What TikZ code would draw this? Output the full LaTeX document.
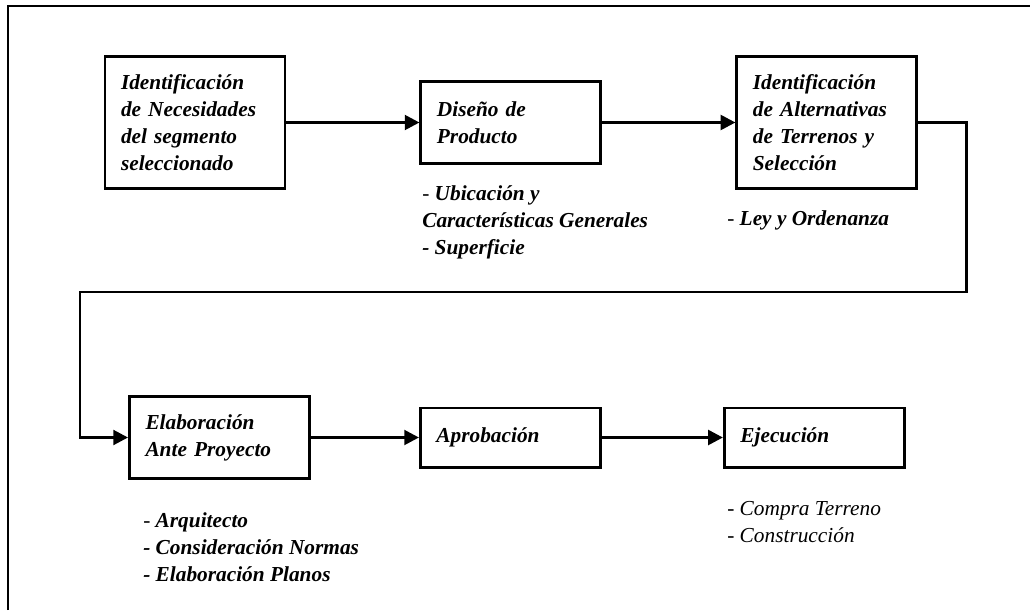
\documentclass[tikz,border=0pt]{standalone}
\usepackage{fontspec}
\setmainfont{Liberation Serif}
\usetikzlibrary{positioning,arrows.meta}

\begin{document}
\begin{tikzpicture}[x=0.75pt,y=-0.75pt,>={Triangle[length=11pt,width=11pt]},
        box/.style={draw,line width=2.2pt,minimum width=135pt,text width=111pt,inner xsep=12pt,align=left,
            font=\fontsize{16}{20.25}\selectfont\bfseries\itshape},
        note/.style={anchor=north west,inner sep=0pt,align=left,font=\fontsize{16}{20.25}\selectfont\bfseries\itshape},
        link/.style={->,line width=2.2pt}]
                \useasboundingbox (0,0) rectangle (1030,610);
                \draw[line width=1.8pt] (8,610) -- (8,6) -- (1030,6);

                \node[box,minimum height=99pt] at (195,122.5) (b1) {Identificación\\de Necesidades\\del segmento\\seleccionado};
                \node[box,minimum height=61.5pt,right=99.75pt of b1] (b2) {Diseño de\\Producto};
                \node[box,minimum height=98.3pt,right=99.75pt of b2] (b3) {Identificación\\de Alternativas\\de Terrenos y\\Selección};
                \node[box,minimum height=61.5pt] at (219.5,437.5) (b4) {Elaboración\\Ante Proyecto};
                \node[box,minimum height=44.3pt,right=81pt of b4] (b5) {Aprobación};
                \node[box,minimum height=44.3pt,right=90.75pt of b5] (b6) {Ejecución};

                \node[note] at (422,185) (n2) {{\mdseries -} Ubicación y\\Características Generales\\- Superficie};
                \node[note] at (727,210) (n3) {{\mdseries -} Ley y Ordenanza};
                \node[note] at (143,512) (n4) {{\mdseries -} Arquitecto\\- Consideración Normas\\- Elaboración Planos};
                \node[note,font=\fontsize{16}{20.25}\selectfont\itshape] at (727,501) (n6) {- Compra Terreno\\- Construcción};

                \coordinate[right=36pt of b3.east] (a);
                \coordinate (c) at (80,292);

                \draw[link] (b1) -- (b2);
                \draw[link] (b2) -- (b3);
                \draw[link] (b3.east) -- (a) |- (c) |- (b4.west);
                \draw[link] (b4) -- (b5);
                \draw[link] (b5) -- (b6);
            \end{tikzpicture}
\end{document}
